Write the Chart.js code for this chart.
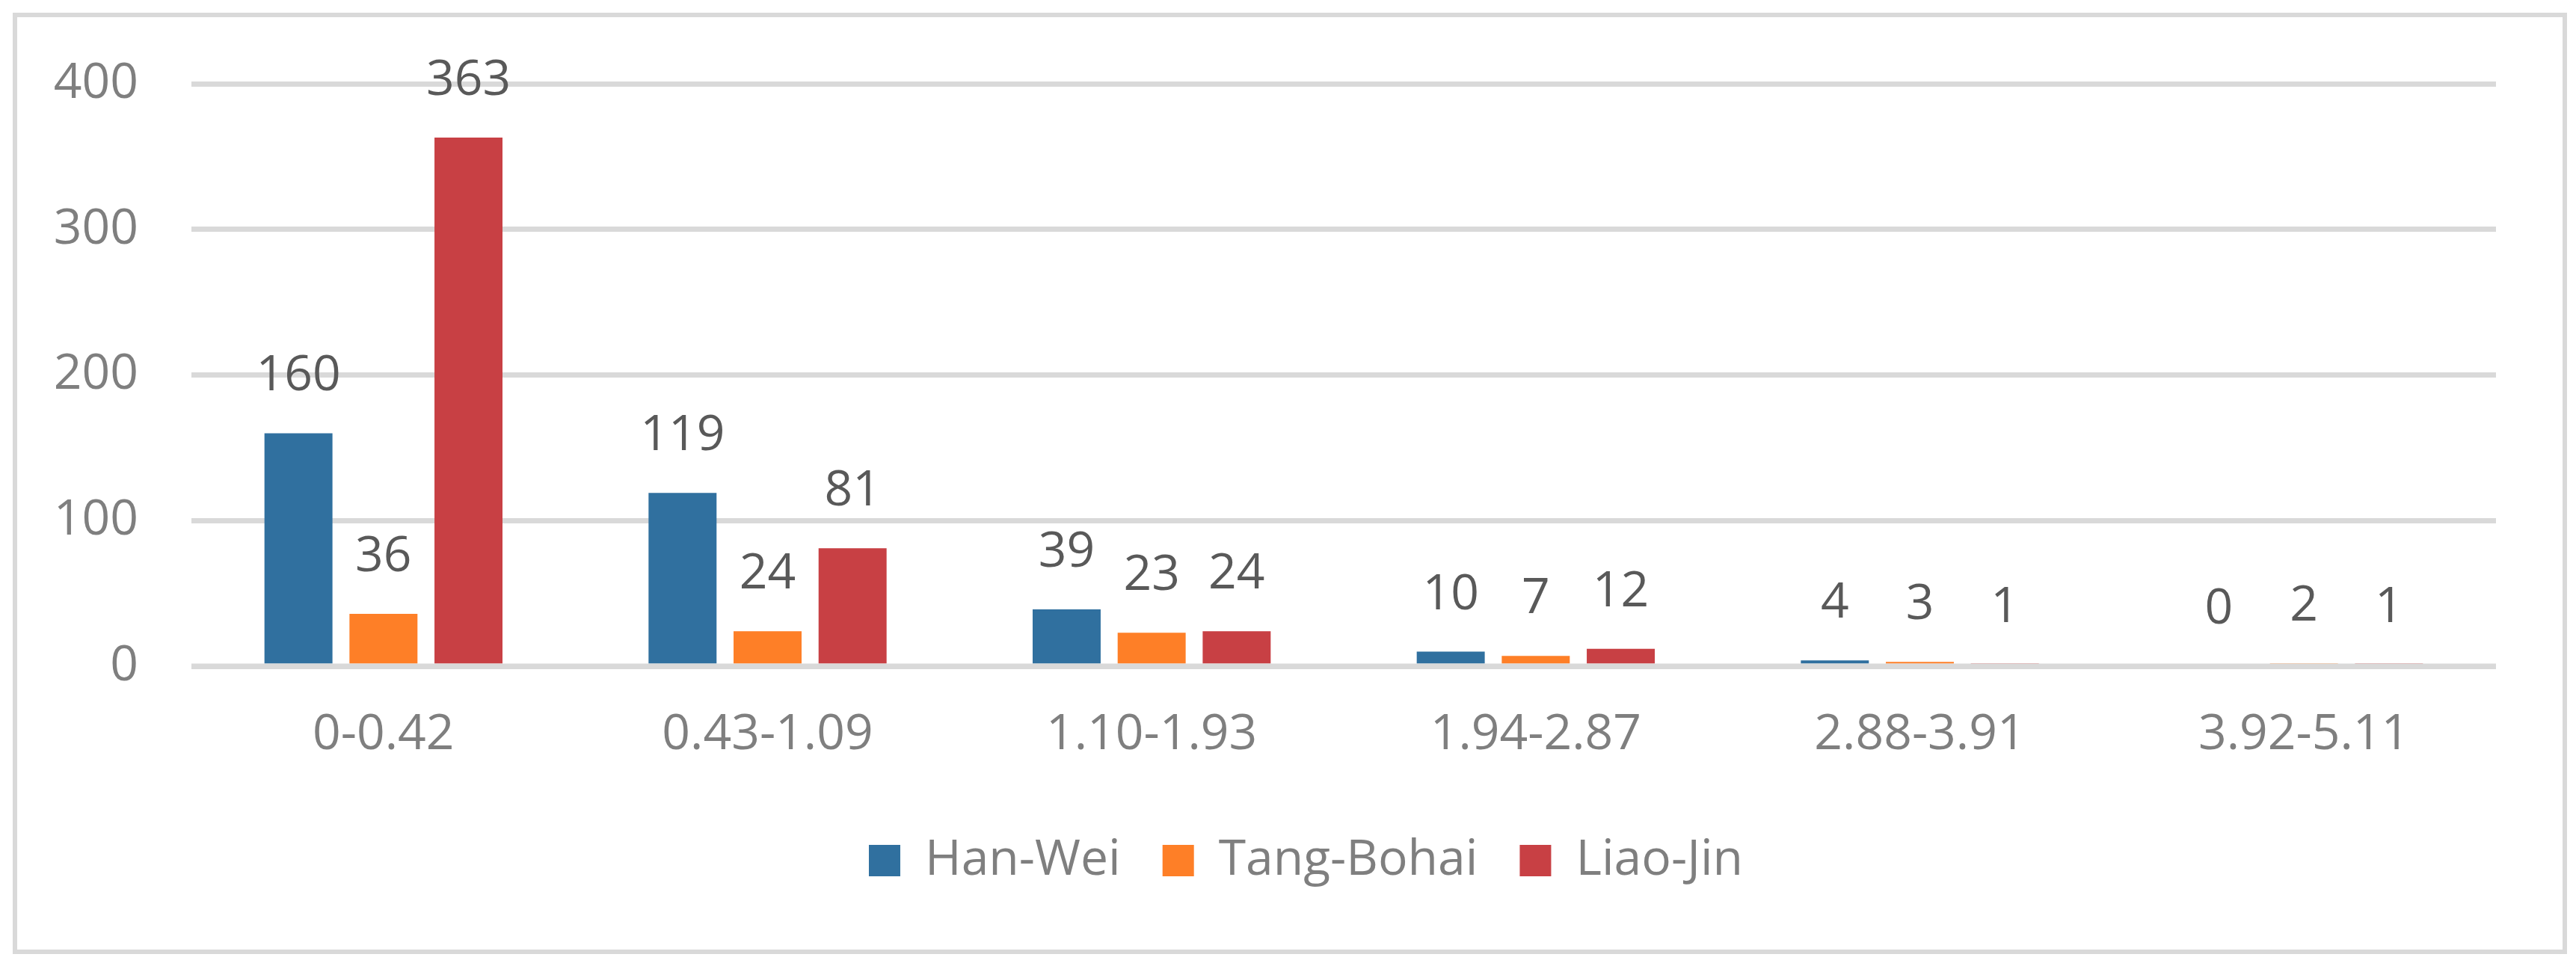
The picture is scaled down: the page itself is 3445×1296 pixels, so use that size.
<!DOCTYPE html>
<html>
<head>
<meta charset="utf-8">
<script src="https://cdn.jsdelivr.net/npm/chart.js@4/dist/chart.umd.min.js"></script>
<style>
  html, body { margin: 0; padding: 0; background: #ffffff; }
  #wrap { position: relative; width: 3445px; height: 1296px; }
  #frame { position: absolute; left: 17px; top: 17px; width: 3416px; height: 1259px;
           box-sizing: border-box; border: 6px solid #d9d9d9; pointer-events: none; }
  canvas { position: absolute; left: 0; top: 0; }
</style>
</head>
<body>
<div id="wrap">
  <canvas id="c" width="3445" height="1296"></canvas>
  <div id="frame"></div>
</div>
<script>
const categories = ['0-0.42', '0.43-1.09', '1.10-1.93', '1.94-2.87', '2.88-3.91', '3.92-5.11'];
const seriesNames = ['Han-Wei', 'Tang-Bohai', 'Liao-Jin'];
const hanWei = [160, 119, 39, 10, 4, 0];
const tangBohai = [36, 24, 23, 7, 3, 2];
const liaoJin = [363, 81, 24, 12, 1, 1];
const yTicks = [0, 100, 200, 300, 400];
const colors = ['#30709f', '#fe7f27', '#c84044'];

const FONT = "'Open Sans', 'Noto Sans', 'Liberation Sans', sans-serif";
Chart.defaults.font.family = FONT;
Chart.defaults.font.size = 66;

// Horizontal axis line drawn over the bars (as in the original), then value labels.
const axisAndLabels = {
  id: 'axisAndLabels',
  afterDatasetsDraw(chart) {
    const ctx = chart.ctx;
    const area = chart.chartArea;
    const y0 = chart.scales.y.getPixelForValue(0);
    ctx.save();
    ctx.fillStyle = '#d9d9d9';
    ctx.fillRect(area.left, y0 - 3.5, area.right - area.left, 7);
    ctx.font = '66px ' + FONT;
    ctx.fillStyle = '#595959';
    ctx.textAlign = 'center';
    ctx.textBaseline = 'alphabetic';
    chart.data.datasets.forEach((ds, i) => {
      chart.getDatasetMeta(i).data.forEach((bar, j) => {
        ctx.fillText(String(ds.data[j]), bar.x, bar.y - 57);
      });
    });
    ctx.restore();
  }
};

const seriesData = [hanWei, tangBohai, liaoJin];
new Chart(document.getElementById('c'), {
  type: 'bar',
  data: {
    labels: categories,
    datasets: seriesNames.map((name, i) => ({
      label: name,
      data: seriesData[i],
      backgroundColor: colors[i],
      borderWidth: 0,
      categoryPercentage: 0.664,
      barPercentage: 0.80
    }))
  },
  options: {
    responsive: false,
    animation: false,
    devicePixelRatio: 1,
    layout: { padding: { left: 48, right: 0, top: 112, bottom: 102 } },
    plugins: {
      tooltip: { enabled: false },
      legend: {
        position: 'bottom',
        labels: {
          boxWidth: 42,
          boxHeight: 42,
          padding: 56,
          color: '#7f7f7f',
          font: { size: 66, family: FONT }
        }
      }
    },
    scales: {
      x: {
        grid: { display: false, drawTicks: false },
        border: { display: false },
        ticks: { color: '#7f7f7f', padding: 53, maxRotation: 0, autoSkip: false, font: { size: 66 } },
        afterFit: (s) => { s.height = 171; }
      },
      y: {
        min: 0,
        max: 400,
        afterBuildTicks: (s) => { s.ticks = yTicks.map(v => ({ value: v })); },
        grid: { color: '#d9d9d9', lineWidth: 7, drawTicks: false },
        border: { display: false },
        ticks: { color: '#7f7f7f', padding: 71, font: { size: 66 } },
        afterFit: (s) => { s.width = 208; }
      },
      yRightSpace: {
        type: 'linear',
        position: 'right',
        display: true,
        grid: { display: false, drawTicks: false },
        border: { display: false },
        ticks: { display: false },
        afterFit: (s) => { s.width = 107; }
      }
    }
  },
  plugins: [axisAndLabels]
});
</script>
</body>
</html>
